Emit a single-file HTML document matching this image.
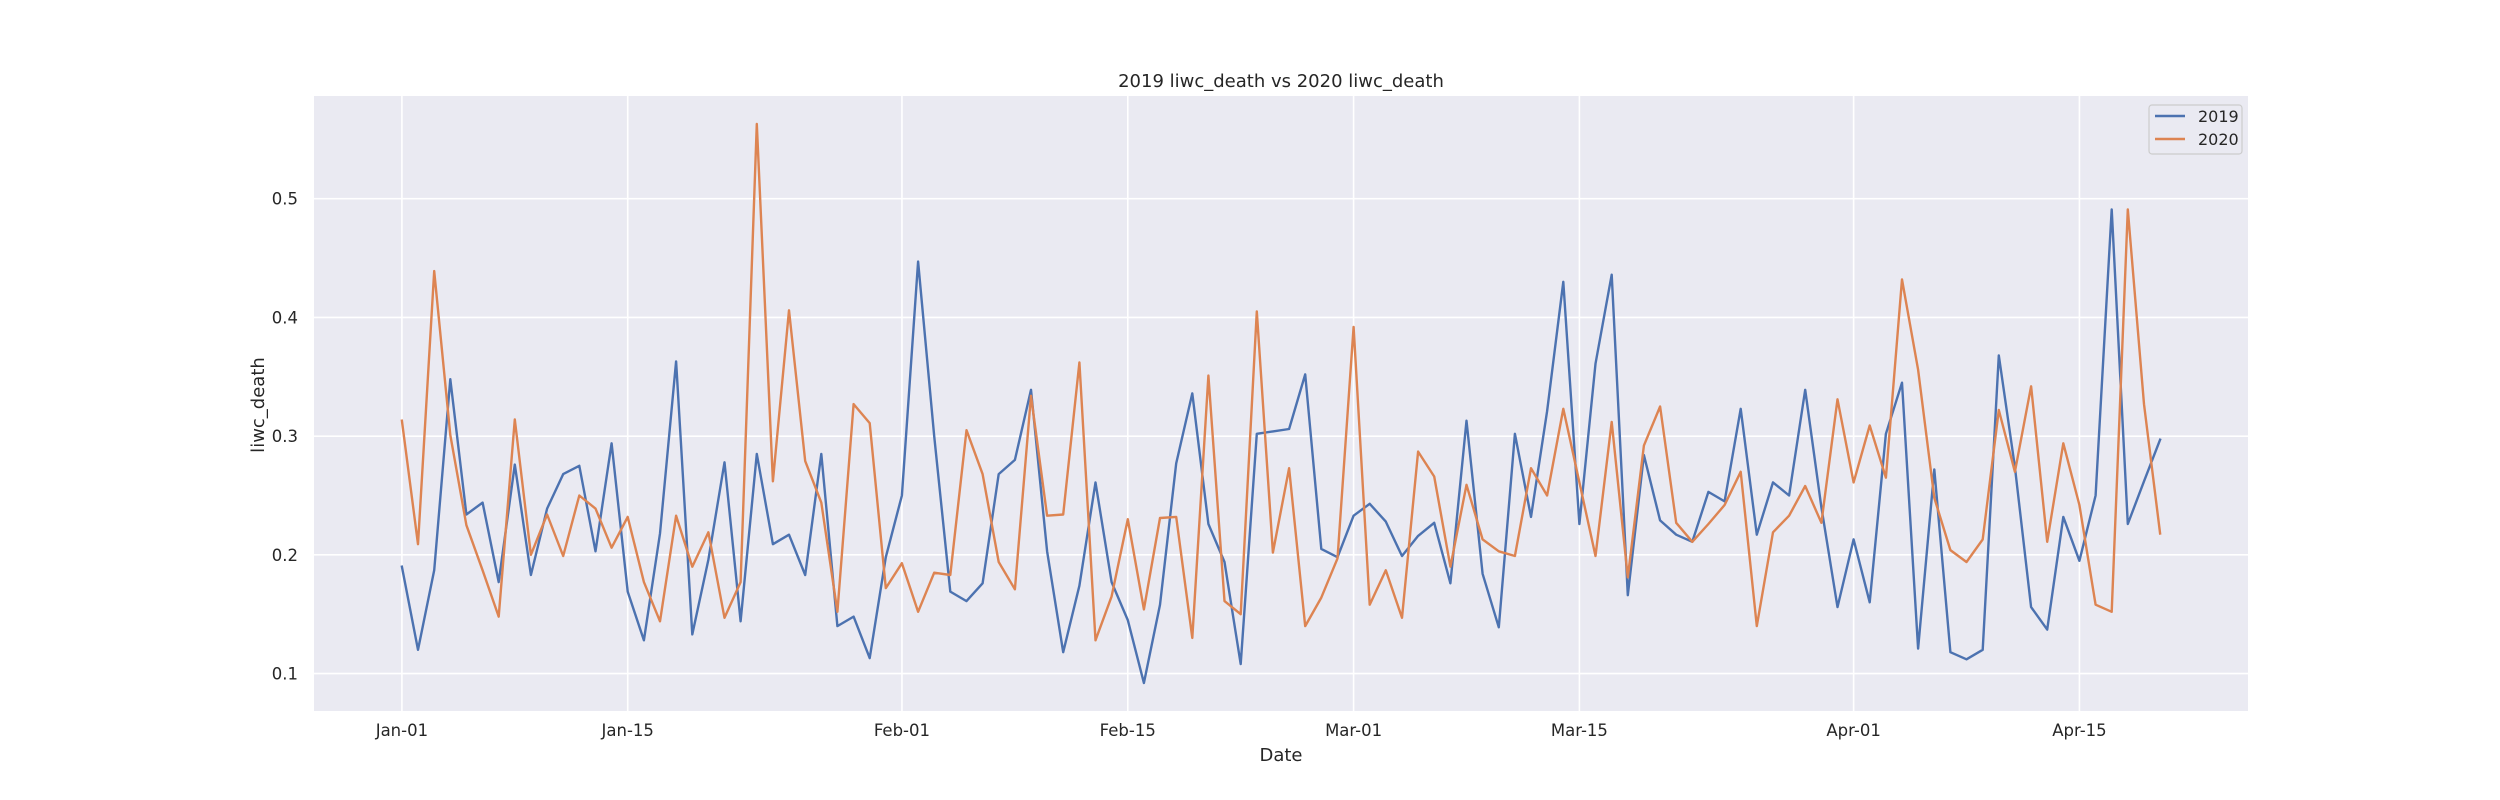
<!DOCTYPE html>
<html><head><meta charset="utf-8"><style>
html,body{margin:0;padding:0;background:#fff;}
svg{display:block;font-family:"DejaVu Sans","Liberation Sans",sans-serif;}
</style></head><body>
<svg id="chart" width="2500" height="800" viewBox="0 0 2500 800" xmlns="http://www.w3.org/2000/svg">
<rect x="0" y="0" width="2500" height="800" fill="#ffffff"/>
<rect x="314" y="96" width="1934" height="615" fill="#eaeaf2"/>
<g id="grid"></g>
<g id="series"></g>
<g id="ticks"></g>
<text x="1281" y="87" font-size="18" fill="#262626" text-anchor="middle">2019 liwc_death vs 2020 liwc_death</text>
<text x="1281" y="761" font-size="18" fill="#262626" text-anchor="middle">Date</text>
<text x="0" y="0" font-size="18" fill="#262626" text-anchor="middle" transform="translate(264,405) rotate(-90)">liwc_death</text>
<g>
<rect x="2149" y="105" width="93" height="49" rx="3" fill="#eaeaf2" stroke="#cccccc" stroke-width="1.2"/>
<line x1="2155" y1="116" x2="2185" y2="116" stroke="#4c72b0" stroke-width="2.4"/>
<text x="2198" y="122" font-size="16" fill="#262626">2019</text>
<line x1="2155" y1="139" x2="2185" y2="139" stroke="#dd8452" stroke-width="2.4"/>
<text x="2198" y="145" font-size="16" fill="#262626">2020</text>
</g>
</svg>
<script>
const series2019 = [0.190,0.120,0.187,0.348,0.234,0.244,0.177,0.276,0.183,0.239,0.268,0.275,0.203,0.294,0.169,0.128,0.218,0.363,0.133,0.196,0.278,0.144,0.285,0.209,0.217,0.183,0.285,0.140,0.148,0.113,0.198,
0.250,0.447,0.300,0.169,0.161,0.176,0.268,0.280,0.339,0.203,0.118,0.174,0.261,0.177,0.145,0.092,0.158,0.277,0.336,0.226,0.194,0.108,0.302,0.304,0.306,0.352,0.205,0.198,0.233,0.243,
0.228,0.199,0.216,0.227,0.176,0.313,0.184,0.139,0.302,0.232,0.321,0.430,0.226,0.361,0.436,0.166,0.284,0.229,0.217,0.211,0.253,0.245,0.323,0.217,0.261,0.250,0.339,0.240,0.156,0.213,0.160,
0.302,0.345,0.121,0.272,0.118,0.112,0.120,0.368,0.274,0.156,0.137,0.232,0.195,0.250,0.491,0.226,0.262,0.297];
const series2020 = [0.313,0.209,0.439,0.301,0.225,0.187,0.148,0.314,0.200,0.234,0.199,0.250,0.239,0.206,0.232,0.177,0.144,0.233,0.190,0.219,0.147,0.177,0.563,0.262,0.406,0.279,0.244,0.152,0.327,0.311,0.172,
0.193,0.152,0.185,0.183,0.305,0.268,0.194,0.171,0.334,0.233,0.234,0.362,0.128,0.165,0.230,0.154,0.231,0.232,0.130,0.351,0.161,0.150,0.405,0.202,0.273,0.140,0.164,0.197,0.392,0.158,
0.187,0.147,0.287,0.266,0.190,0.259,0.213,0.203,0.199,0.273,0.250,0.323,0.261,0.199,0.312,0.181,0.292,0.325,0.227,0.211,0.226,0.242,0.270,0.140,0.219,0.233,0.258,0.227,0.331,0.261,0.309,
0.265,0.432,0.356,0.248,0.204,0.194,0.213,0.322,0.270,0.342,0.211,0.294,0.242,0.158,0.152,0.491,0.327,0.218];
const xTickDays = [0,14,31,45,59,73,90,104];
const xTickLabels = ["Jan-01","Jan-15","Feb-01","Feb-15","Mar-01","Mar-15","Apr-01","Apr-15"];
const yTickValues = [0.1,0.2,0.3,0.4,0.5];
const yTickLabels = ["0.1","0.2","0.3","0.4","0.5"];

const NS = "http://www.w3.org/2000/svg";
const L = 314, R = 2248, T = 96, B = 711;
const n = Math.max(series2019.length, series2020.length);
const xmin = -0.05*(n-1), xmax = (n-1)*1.05;
const all = series2019.concat(series2020);
const dmin = Math.min(...all), dmax = Math.max(...all);
const ymin = dmin - 0.05*(dmax-dmin), ymax = dmax + 0.05*(dmax-dmin);
function xs(d){ return L + (d - xmin)/(xmax - xmin)*(R - L); }
function ys(v){ return B - (v - ymin)/(ymax - ymin)*(B - T); }
function mk(tag, attrs){ const e = document.createElementNS(NS, tag); for (const k in attrs) e.setAttribute(k, attrs[k]); return e; }

const grid = document.getElementById('grid');
const ticks = document.getElementById('ticks');
xTickDays.forEach((d,i)=>{
  const ln = mk('line',{x1:xs(d),x2:xs(d),y1:T,y2:B,stroke:'#ffffff','stroke-width':1.6});
  
  
  grid.appendChild(ln);
  const t = mk('text',{x:xs(d),y:736,'font-size':16.5,fill:'#262626','text-anchor':'middle'});
  t.textContent = xTickLabels[i];
  
  
  ticks.appendChild(t);
});
yTickValues.forEach((v,i)=>{
  const ln = mk('line',{x1:L,x2:R,y1:ys(v),y2:ys(v),stroke:'#ffffff','stroke-width':1.6});
  
  
  grid.appendChild(ln);
  const t = mk('text',{x:298,y:ys(v)+6,'font-size':16.5,fill:'#262626','text-anchor':'end'});
  t.textContent = yTickLabels[i];
  
  
  ticks.appendChild(t);
});
const sg = document.getElementById('series');
function drawLine(arr, color, name){
  const pts = arr.map((v,i)=> xs(i).toFixed(1)+','+ys(v).toFixed(1)).join(' ');
  const p = mk('polyline',{points:pts,fill:'none',stroke:color,'stroke-width':2.4,'stroke-linejoin':'round','stroke-linecap':'square'});
  
  
  sg.appendChild(p);
}
drawLine(series2019, '#4c72b0', 'line-2019');
drawLine(series2020, '#dd8452', 'line-2020');
</script>
</body></html>
